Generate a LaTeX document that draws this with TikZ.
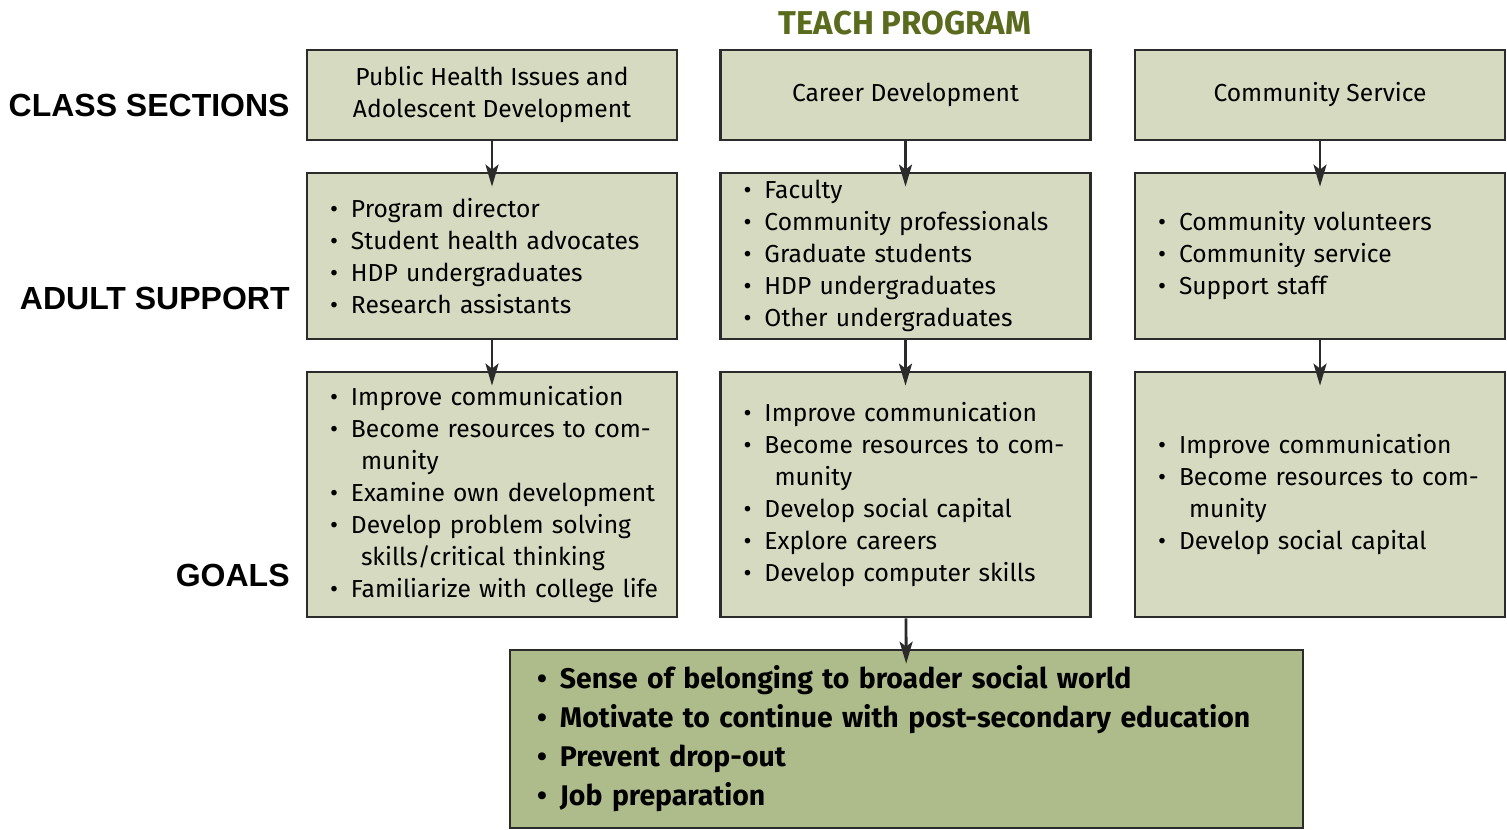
\documentclass[tikz,border=0pt]{standalone}
\usepackage{fontspec}
\setmainfont{Fira Sans}
\newfontfamily\labfont{Liberation Sans}
\usepackage{xcolor}
\usetikzlibrary{arrows.meta}

\definecolor{boxfill}{HTML}{D5DAC0}
\definecolor{outfill}{HTML}{AEBB8B}
\definecolor{olive}{HTML}{5A6B1E}
\definecolor{edge}{HTML}{2B2B2B}

\newcommand{\itm}[1]{\mbox{\makebox[10.5pt][l]{\textbullet}#1}}
\newcommand{\cont}[1]{\mbox{\hspace*{15.5pt}#1}}
\newcommand{\bitm}[1]{\mbox{\makebox[11.5pt][l]{\textbullet}#1}}

\begin{document}
\begin{tikzpicture}[x=0.5pt, y=-0.5pt,
  box/.style = {draw=edge, line width=1.4pt, fill=boxfill, minimum width=185pt, inner sep=0pt, font=\fontsize{12.3}{16}\selectfont},
  sec/.style = {box, minimum height=45pt, align=center},
  list/.style = {box, text width=162pt, align=left},
  lab/.style = {anchor=east, inner sep=0pt, font=\labfont\bfseries\fontsize{16}{18}\selectfont},
  arr/.style = {draw=edge, line width=1.4pt, -{Stealth[length=11pt,width=6.5pt,inset=2.5pt]}, shorten >=-7.5pt}]
\useasboundingbox (0,0) rectangle (1507,829);

\node[font=\bfseries\fontsize{16.5}{18}\selectfont, text=olive] (title) at (905,23) {TEACH PROGRAM};

\node[lab] (lcs) at (290,105) {CLASS SECTIONS};
\node[lab] (las) at (290,298) {ADULT SUPPORT};
\node[lab] (lgl) at (290,575) {GOALS};

% class sections
\node[sec] (cs1) at (492,95) {Public Health Issues and\\Adolescent Development};
\node[sec] (cs2) at (905.5,95) {Career Development};
\node[sec] (cs3) at (1320,95) {Community Service};

% adult support
\node[list, minimum height=83pt] (as1) at (492,256) {\itm{Program director}\\ \itm{Student health advocates}\\ \itm{HDP undergraduates}\\ \itm{Research assistants}};
\node[list, minimum height=83pt] (as2) at (905.5,256) {\itm{Faculty}\\ \itm{Community professionals}\\ \itm{Graduate students}\\ \itm{HDP undergraduates}\\ \itm{Other undergraduates}};
\node[list, minimum height=83pt] (as3) at (1320,256) {\itm{Community volunteers}\\ \itm{Community service}\\ \itm{Support staff}};

% goals
\node[list, minimum height=122.5pt] (gl1) at (492,494.5) {\itm{Improve communication}\\ \itm{Become resources to com-}\\ \cont{munity}\\ \itm{Examine own development}\\ \itm{Develop problem solving}\\ \cont{skills/critical thinking}\\ \itm{Familiarize with college life}};
\node[list, minimum height=122.5pt] (gl2) at (905.5,494.5) {\itm{Improve communication}\\ \itm{Become resources to com-}\\ \cont{munity}\\ \itm{Develop social capital}\\ \itm{Explore careers}\\ \itm{Develop computer skills}};
\node[list, minimum height=122.5pt] (gl3) at (1320,494.5) {\itm{Improve communication}\\ \itm{Become resources to com-}\\ \cont{munity}\\ \itm{Develop social capital}};

% outcome
\node[box, fill=outfill, minimum width=396.5pt, text width=369.5pt, minimum height=89pt, align=left, font=\bfseries\fontsize{14.2}{19.5}\selectfont] (out) at (906.5,739)
  {\bitm{Sense of belonging to broader social world}\\ \bitm{Motivate to continue with post-secondary education}\\ \bitm{Prevent drop-out}\\ \bitm{Job preparation}};

\foreach \i in {1,2,3} {
  \draw[arr] (cs\i) -- (as\i);
  \draw[arr] (as\i) -- (gl\i);
}
\draw[arr] (gl2) -- (out);
\end{tikzpicture}
\end{document}
